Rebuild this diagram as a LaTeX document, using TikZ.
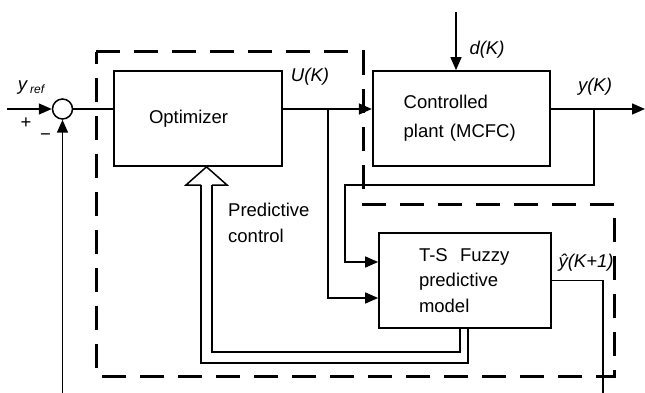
\documentclass[tikz,border=0pt]{standalone}
\usepackage{fontspec}
\setmainfont{Liberation Sans}
\usetikzlibrary{arrows.meta,positioning,calc}

\begin{document}
\begin{tikzpicture}[
  x=1pt, y=-1pt,
  font=\fontsize{18.5}{26}\selectfont,
  block/.style={draw, line width=1.7pt, minimum height=95pt, align=left},
  arrow/.style={-{Triangle[length=13pt,width=11pt]}, line width=1.5pt},
  wire/.style={line width=1.5pt},
  dashbox/.style={line width=3pt, dash pattern=on 24pt off 14pt},
  sig/.style={font=\fontsize{18.5}{22}\selectfont\itshape, inner sep=0pt},
]
  \useasboundingbox (0,0) rectangle (645,393);

  %% Predictive control region (dashed)
  \draw[dashbox] (96,52) -- (363,52) -- (363,204) -- (614,204)
    -- (614,376) -- (96,376) -- cycle;

  %% Blocks
  \node[circle, draw, line width=1.5pt, minimum size=20pt, inner sep=0pt] (sum) at (62.5,109) {};
  \node[block, text width=98pt, inner xsep=35pt] (opt) at (198,118.5) {Optimizer};
  \node[block, text width=115pt, inner xsep=31pt, font=\fontsize{18.5}{29}\selectfont,
        right=89pt of opt] (plant) {Controlled\\plant (MCFC)};
  \node[block, text width=92pt, minimum width=172pt, font=\fontsize{18.5}{25.5}\selectfont]
    (ts) at (465,280.5) {T-S\ \ Fuzzy\\predictive\\model};

  %% Free ends and branch points
  \coordinate (yin)  at (7,109);
  \coordinate (fb)   at (62.5,393);
  \coordinate (dtop) at (456,12);
  \coordinate (yout) at (645,109);
  \coordinate (ubr)  at (328,109);
  \coordinate (ybr)  at (594,109);
  \coordinate (yhat) at (603,393);

  %% Main loop
  \draw[arrow] (yin) -- (sum.west);
  \draw[arrow] (fb) -- (sum.south);
  \draw[wire]  (sum.east) -- (sum.east -| opt.west);
  \draw[arrow] (opt.east |- sum) -- (plant.west |- sum);
  \draw[arrow] (dtop) -- (dtop |- plant.north);
  \draw[arrow] (plant.east |- sum) -- (yout);

  %% Model inputs and output
  \draw[arrow] (ubr) |- ([yshift=-17.5pt]ts.west);
  \draw[arrow] (ybr) |- (345,185) |- ([yshift=18.5pt]ts.west);
  \draw[wire]  (ts.east) -| (yhat);

  %% Hollow arrow back to the optimizer
  \draw[wire] ([xshift=-5pt]ts.south) |- (212,352) -- (212,185);
  \draw[wire] ([xshift=3pt]ts.south) |- (201,363) -- (201,185);
  \draw[wire, line join=miter] (201,185) -- (186,185) -- ([xshift=8.5pt]opt.south)
    -- (227,185) -- (212,185);

  %% Labels
  \node[sig] (yref) at (31,88) {y\,\raisebox{-3pt}{\fontsize{12}{14}\selectfont ref}};
  \node[inner sep=0pt] (plus)  at (26,123) {+};
  \node[inner sep=0pt] (minus) at (45.5,137) {−};
  \node[sig] (ulbl) at (310,77) {U(K)};
  \node[sig] (dlbl) at (487,50) {d(K)};
  \node[sig] (ylbl) at (595,87) {y(K)};
  \node[sig] (yhlbl) at (586,263) {\^{y}(K+1)};
  \node[anchor=north west, align=left, inner sep=0pt] (pc) at (228,203)
    {Predictive\\control};

\end{tikzpicture}
\end{document}
